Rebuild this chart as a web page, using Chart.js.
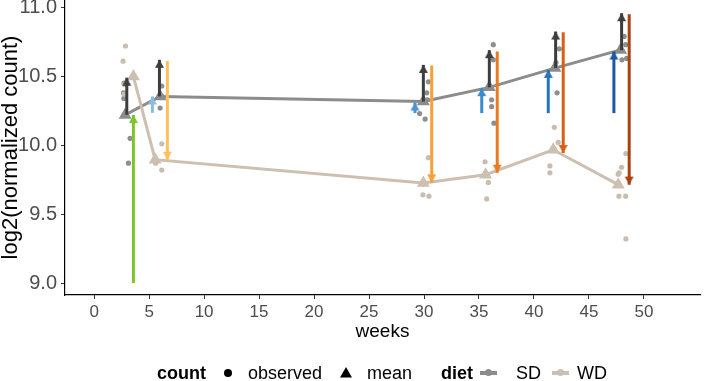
<!DOCTYPE html>
<html><head><meta charset="utf-8">
<script src="https://cdn.jsdelivr.net/npm/chart.js@4"></script>
<style>
html,body{margin:0;padding:0;background:#fff;}
#wrap{position:relative;width:706px;height:381px;overflow:hidden;}
canvas{position:absolute;left:0;top:0;}
.lg{position:absolute;font-family:'Liberation Sans',Arial,sans-serif;font-size:18px;color:#000;line-height:18px;white-space:nowrap;}
.b{font-weight:bold;}
.dot{position:absolute;width:8px;height:8px;border-radius:50%;background:#000;}
.key{position:absolute;width:17px;height:4px;}
.key i{position:absolute;left:5px;top:-2px;width:7px;height:7px;border-radius:50%;}
</style></head><body>
<div id="wrap">
<canvas id="c" width="706" height="381"></canvas>
<div class="lg b" style="left:157px;top:364px">count</div>
<div class="dot" style="left:224px;top:369px"></div>
<div class="lg" style="left:248px;top:364px">observed</div>
<svg style="position:absolute;left:340px;top:367px" width="12" height="11"><polygon points="6,0 12,10.5 0,10.5" fill="#000"/></svg>
<div class="lg" style="left:367px;top:364px">mean</div>
<div class="lg b" style="left:441px;top:364px">diet</div>
<div class="key" style="left:480px;top:371px;background:#8c8c8c"><i style="background:#8c8c8c"></i></div>
<div class="lg" style="left:516px;top:364px">SD</div>
<div class="key" style="left:552px;top:371px;background:#cdbfb1"><i style="background:#cdbfb1"></i></div>
<div class="lg" style="left:577px;top:364px">WD</div>
</div>
<script>
// ---- data ----
const xTicks = [0, 5, 10, 15, 20, 25, 30, 35, 40, 45, 50];
const yTicks = [9.0, 9.5, 10.0, 10.5, 11.0];

const sdMeanX = [2.82, 6.0, 29.94, 35.94, 41.9, 47.88];
const sdMeanY = [10.22, 10.354, 10.317, 10.42, 10.56, 10.692];
const wdMeanX = [3.57, 5.55, 29.94, 35.6, 41.75, 47.66];
const wdMeanY = [10.499, 9.895, 9.726, 9.786, 9.967, 9.714];

const sdObsX = [2.73, 2.67, 2.70, 3.27, 3.12, 6.15, 6.0, 6.1, 30.4, 30.25, 29.6, 30.1, 30.3, 36.3, 36.15, 36.15, 36.36, 36.3, 42.3, 42.1, 42.0, 48.2, 48.34, 48.43, 48.0];
const sdObsY = [10.45, 10.38, 10.34, 10.05, 9.87, 10.43, 10.27, 10.36, 10.46, 10.38, 10.23, 10.19, 10.33, 10.73, 10.33, 10.28, 10.16, 10.62, 10.70, 10.38, 10.60, 10.79, 10.73, 10.63, 10.62];
const wdObsX = [2.85, 2.63, 2.75, 2.7, 6.15, 6.15, 5.6, 30.4, 29.9, 30.45, 29.9, 35.55, 35.85, 35.7, 41.85, 42.2, 41.45, 41.45, 48.36, 47.97, 47.66, 47.75, 47.73, 48.34, 48.36];
const wdObsY = [10.72, 10.61, 10.44, 10.37, 10.01, 9.82, 9.87, 9.91, 9.64, 9.63, 9.72, 9.88, 9.73, 9.61, 10.13, 10.02, 9.85, 9.80, 9.94, 9.84, 9.79, 9.80, 9.63, 9.63, 9.32];

const arrowX    = [2.97, 3.57, 5.3, 5.94, 6.66, 29.18, 29.94, 30.7, 35.25, 35.94, 36.66, 41.3, 41.97, 42.66, 47.27, 47.97, 48.66];
const arrowFrom = [10.221, 9.0, 10.235, 10.354, 10.612, 10.233, 10.317, 10.578, 10.233, 10.42, 10.68, 10.233, 10.56, 10.82, 10.233, 10.69, 10.95];
const arrowTo   = [10.49, 10.22, 10.354, 10.62, 9.895, 10.31, 10.583, 9.73, 10.414, 10.69, 9.80, 10.547, 10.825, 9.943, 10.68, 10.958, 9.714];
const arrowColor = ['#3d3d3d', '#7cc52c', '#8abde0', '#3d3d3d', '#fdc05a',
  '#4b95d0', '#3d3d3d', '#f6a035', '#3a8bcd', '#3d3d3d', '#eb7a22',
  '#2673be', '#3d3d3d', '#d5601a', '#1b58a3', '#3d3d3d', '#a8420f'];

// ---- helpers ----
function head(color) {
  const c = document.createElement('canvas');
  c.width = 11; c.height = 18;
  const g = c.getContext('2d');
  g.fillStyle = color;
  g.beginPath();
  g.moveTo(5.5, 9); g.lineTo(10, 17); g.lineTo(1, 17); g.closePath();
  g.fill();
  return c;
}
const zip = (xs, ys) => xs.map((x, i) => ({x, y: ys[i]}));

const datasets = [];
arrowX.forEach((x, i) => {
  const down = arrowTo[i] < arrowFrom[i];
  datasets.push({
    data: [{x, y: arrowFrom[i]}, {x, y: arrowTo[i]}],
    borderColor: arrowColor[i], backgroundColor: arrowColor[i],
    borderWidth: 3, borderCapStyle: 'butt',
    pointRadius: [0, 5], pointHoverRadius: [0, 5],
    pointStyle: ['circle', head(arrowColor[i])],
    rotation: [0, down ? 180 : 0],
    order: 0
  });
});
datasets.push({
  data: zip(wdMeanX, wdMeanY), borderColor: '#cdbfb1', backgroundColor: '#cdbfb1',
  borderWidth: 3, pointStyle: 'triangle', pointRadius: 7.5, pointBorderWidth: 0, order: 1
});
datasets.push({
  data: zip(sdMeanX, sdMeanY), borderColor: '#8c8c8c', backgroundColor: '#8c8c8c',
  borderWidth: 3, pointStyle: 'triangle', pointRadius: 7.5, pointBorderWidth: 0, order: 2
});
datasets.push({
  data: zip(wdObsX, wdObsY), showLine: false, backgroundColor: '#c9bdb1',
  pointRadius: 2.6, pointBorderWidth: 0, order: 3
});
datasets.push({
  data: zip(sdObsX, sdObsY), showLine: false, backgroundColor: '#8e8e8e',
  pointRadius: 2.6, pointBorderWidth: 0, order: 4
});

const FONT = "'Liberation Sans', Arial, sans-serif";
new Chart(document.getElementById('c'), {
  type: 'line',
  data: {datasets},
  options: {
    responsive: false, animation: false, devicePixelRatio: 1,
    layout: {autoPadding: false, padding: {left: 0, right: 6, top: 0, bottom: 37.6}},
    plugins: {legend: {display: false}, tooltip: {enabled: false}},
    scales: {
      x: {
        type: 'linear', min: -2.65, max: 55.1,
        afterBuildTicks: s => { s.ticks = xTicks.map(v => ({value: v})); },
        afterFit: s => { s.height = 48.4; s.paddingLeft = 0; s.paddingRight = 0; },
        ticks: {font: {family: FONT, size: 17}, color: '#4d4d4d', padding: 3, maxRotation: 0, callback: v => String(v)},
        grid: {drawOnChartArea: false, drawTicks: true, tickLength: 4, tickColor: '#333', tickWidth: 1},
        border: {display: true, color: '#000', width: 1.2},
        title: {display: true, text: 'weeks', font: {family: FONT, size: 19}, color: '#000', padding: {top: 0, bottom: 0}}
      },
      y: {
        type: 'linear', min: 8.913, max: 11.054,
        afterBuildTicks: s => { s.ticks = yTicks.map(v => ({value: v})); },
        afterFit: s => { s.width = 65; s.paddingTop = 0; s.paddingBottom = 0; },
        ticks: {font: {family: FONT, size: 20}, color: '#4d4d4d', padding: 4, callback: v => Number(v).toFixed(1)},
        grid: {drawOnChartArea: false, drawTicks: true, tickLength: 4, tickColor: '#333', tickWidth: 1},
        border: {display: true, color: '#000', width: 1.2},
        title: {display: true, text: 'log2(normalized count)', font: {family: FONT, size: 22}, color: '#000', padding: {top: -2, bottom: 0}}
      }
    }
  }
});
</script>
</body></html>
